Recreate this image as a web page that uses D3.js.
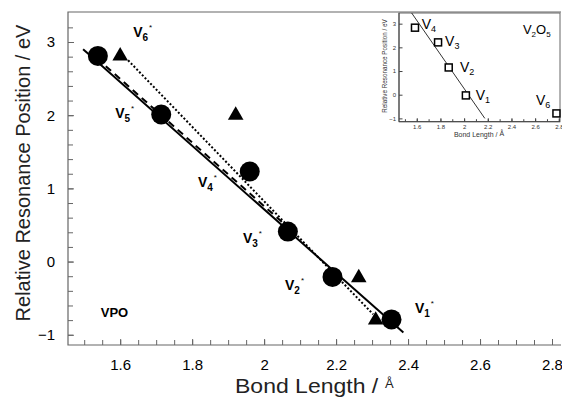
<!DOCTYPE html>
<html>
<head>
<meta charset="utf-8">
<script src="https://cdn.jsdelivr.net/npm/d3@7"></script>
<style>
  body { margin: 0; background: #fff; }
  text { font-family: Arial, "Liberation Sans", sans-serif; }
</style>
</head>
<body>
<div id="plot"></div>
<script>
// VPO data (main plot)
var circleX = [1.538, 1.714, 1.960, 2.066, 2.190, 2.354];
var circleY = [2.81, 2.01, 1.23, 0.41, -0.21, -0.79];
var triX = [1.600, 1.921, 2.263, 2.310];
var triY = [2.81, 2.00, -0.22, -0.80];
var solidLine = [[1.497, 2.90], [2.387, -0.97]];
var dottedLine = [[1.622, 2.75], [2.303, -0.72]];
var dashedLine = [[1.560, 2.67], [2.080, 0.41]];
var labelNames = ["6", "5", "4", "3", "2", "1"];
var labelX = [1.636, 1.586, 1.816, 1.941, 2.058, 2.419];
var labelY = [3.07, 1.96, 1.02, 0.253, -0.389, -0.703];
var xTicks = [1.6, 1.8, 2, 2.2, 2.4, 2.6, 2.8];
var yTicks = [-1, 0, 1, 2, 3];

// V2O5 data (inset)
var insetX = [1.585, 1.780, 1.870, 2.015, 2.780];
var insetY = [2.83, 2.21, 1.15, -0.03, -0.79];
var insetNames = ["4", "3", "2", "1", "6"];
var insetLabelX = [1.642, 1.839, 1.965, 2.098, 2.607];
var insetLabelY = [2.78, 2.07, 0.94, -0.23, -0.44];
var insetLine = [[1.557, 3.45], [2.175, -1.0]];
var insetXTicks = [1.6, 1.8, 2, 2.2, 2.4, 2.6, 2.8];
var insetYTicks = [-1, 0, 1, 2, 3];

var W = 562, H = 397;
var svg = d3.select("#plot").append("svg")
  .attr("width", W).attr("height", H);

var x = d3.scaleLinear().domain([1.455, 2.825]).range([68, 561]);
var y = d3.scaleLinear().domain([-1.14, 3.41]).range([345, 12]);

var axisColor = "#666";

// minor ticks
var xMinor = d3.range(1.5, 2.8001, 0.05);
var yMinor = d3.range(-1, 3.2001, 0.2);

svg.append("g")
  .attr("transform", "translate(0,345)")
  .call(d3.axisBottom(x).tickValues(xMinor).tickSize(-5).tickFormat(""))
  .call(g => g.select(".domain").remove())
  .selectAll("line").attr("stroke", axisColor);

svg.append("g")
  .attr("transform", "translate(68,0)")
  .call(d3.axisLeft(y).tickValues(yMinor).tickSize(-5).tickFormat(""))
  .call(g => g.select(".domain").remove())
  .selectAll("line").attr("stroke", axisColor);

// major tick labels
var xAxis = svg.append("g")
  .attr("transform", "translate(0,345)")
  .call(d3.axisBottom(x).tickValues(xTicks).tickSize(-6).tickPadding(14)
    .tickFormat(d3.format("")));
xAxis.select(".domain").remove();
xAxis.selectAll("line").attr("stroke", axisColor);
xAxis.selectAll("text").attr("font-size", 15).attr("fill", "#000");

var yAxis = svg.append("g")
  .attr("transform", "translate(68,0)")
  .call(d3.axisLeft(y).tickValues(yTicks).tickSize(-6).tickPadding(13)
    .tickFormat(d3.format("")));
yAxis.select(".domain").remove();
yAxis.selectAll("line").attr("stroke", axisColor);
yAxis.selectAll("text").attr("font-size", 15).attr("fill", "#000");

// frame: left, bottom, top
svg.append("path")
  .attr("d", "M561,12H68V345H561")
  .attr("fill", "none")
  .attr("stroke", axisColor)
  .attr("stroke-width", 1.2);

// Axis titles
svg.append("text")
  .attr("transform", "translate(30,173) rotate(-90)")
  .attr("text-anchor", "middle")
  .attr("font-size", 20)
  .attr("fill", "#222")
  .text("Relative Resonance Position / eV");

svg.append("text")
  .attr("transform", "translate(235,393) scale(1.15,1)")
  .attr("font-size", 20)
  .attr("fill", "#222")
  .text("Bond Length /");
svg.append("text")
  .attr("x", 385).attr("y", 388)
  .attr("font-size", 13)
  .attr("font-family", "DejaVu Serif, serif")
  .attr("fill", "#222")
  .text("Å");

// fit lines
var line = d3.line().x(d => x(d[0])).y(d => y(d[1]));

svg.append("path").datum(dottedLine)
  .attr("d", line).attr("fill", "none")
  .attr("stroke", "#000").attr("stroke-width", 2)
  .attr("stroke-dasharray", "2,2");

svg.append("path").datum(dashedLine)
  .attr("d", line).attr("fill", "none")
  .attr("stroke", "#000").attr("stroke-width", 2)
  .attr("stroke-dasharray", "7,5");

svg.append("path").datum(solidLine)
  .attr("d", line).attr("fill", "none")
  .attr("stroke", "#000").attr("stroke-width", 2);

// triangles
svg.selectAll(".tri")
  .data(d3.zip(triX, triY))
  .enter().append("path")
  .attr("class", "tri")
  .attr("transform", d => "translate(" + x(d[0]) + "," + y(d[1]) + ")")
  .attr("d", d3.symbol().type(d3.symbolTriangle).size(105))
  .attr("fill", "#000");

// circles
svg.selectAll(".dot")
  .data(d3.zip(circleX, circleY))
  .enter().append("circle")
  .attr("class", "dot")
  .attr("cx", d => x(d[0]))
  .attr("cy", d => y(d[1]))
  .attr("r", 10)
  .attr("fill", "#000");

// V_n* labels
labelNames.forEach(function(n, i) {
  var t = svg.append("text")
    .attr("x", x(labelX[i])).attr("y", y(labelY[i]))
    .attr("font-size", 14).attr("font-weight", "bold")
    .text("V");
  t.append("tspan").attr("dy", 4).attr("font-size", 10).text(n);
  t.append("tspan").attr("dy", -11).attr("dx", 1).attr("font-size", 8)
    .attr("font-weight", "normal").text("*");
});

svg.append("text")
  .attr("x", x(1.546)).attr("y", y(-0.757))
  .attr("font-size", 13).attr("font-weight", "bold")
  .text("VPO");

// ---- Inset ----
var ix = d3.scaleLinear().domain([1.45, 2.81]).range([399, 560]);
var iy = d3.scaleLinear().domain([-1.14, 3.45]).range([121.7, 13]);

var inset = svg.append("g");
inset.append("rect")
  .attr("x", 399).attr("y", 13)
  .attr("width", 161).attr("height", 108.7)
  .attr("fill", "#fff")
  .attr("stroke", axisColor);

var ixAxis = inset.append("g")
  .attr("transform", "translate(0,121.7)")
  .call(d3.axisBottom(ix).tickValues(d3.range(1.5, 2.8001, 0.1)).tickSize(-2.5).tickFormat(""));
ixAxis.select(".domain").remove();
ixAxis.selectAll("line").attr("stroke", "#444");

var ixMaj = inset.append("g")
  .attr("transform", "translate(0,121.7)")
  .call(d3.axisBottom(ix).tickValues(insetXTicks).tickSize(-3.5).tickPadding(3)
    .tickFormat(d3.format("")));
ixMaj.select(".domain").remove();
ixMaj.selectAll("line").attr("stroke", "#444");
ixMaj.selectAll("text").attr("font-size", 6).attr("fill", "#333");

var iyAxis = inset.append("g")
  .attr("transform", "translate(399,0)")
  .call(d3.axisLeft(iy).tickValues(insetYTicks).tickSize(-3.5).tickPadding(3)
    .tickFormat(d3.format("")));
iyAxis.select(".domain").remove();
iyAxis.selectAll("line").attr("stroke", "#444");
iyAxis.selectAll("text").attr("font-size", 6).attr("fill", "#333");

inset.append("path")
  .attr("d", "M399,13V121.7H560")
  .attr("fill", "none").attr("stroke", "#444");

inset.append("text")
  .attr("transform", "translate(387,66) rotate(-90)")
  .attr("text-anchor", "middle")
  .attr("font-size", 6.3)
  .attr("fill", "#333")
  .text("Relative Resonance Position / eV");

var ixt = inset.append("text")
  .attr("x", 479).attr("y", 137)
  .attr("text-anchor", "middle")
  .attr("font-size", 7)
  .attr("fill", "#333")
  .text("Bond Length / ");
ixt.append("tspan").attr("dy", -1).attr("font-size", 7).text("Å");

inset.append("path").datum(insetLine)
  .attr("d", d3.line().x(d => ix(d[0])).y(d => iy(d[1])))
  .attr("fill", "none").attr("stroke", "#000").attr("stroke-width", 0.8);

inset.selectAll(".sq")
  .data(d3.zip(insetX, insetY))
  .enter().append("rect")
  .attr("class", "sq")
  .attr("x", d => ix(d[0]) - 3.5)
  .attr("y", d => iy(d[1]) - 3.5)
  .attr("width", 7).attr("height", 7)
  .attr("fill", "#fff")
  .attr("stroke", "#000").attr("stroke-width", 1.5);

insetNames.forEach(function(n, i) {
  var t = inset.append("text")
    .attr("x", ix(insetLabelX[i])).attr("y", iy(insetLabelY[i]))
    .attr("font-size", 14)
    .text("V");
  t.append("tspan").attr("dy", 3).attr("font-size", 9).text(n);
});

var v2o5 = inset.append("text")
  .attr("x", ix(2.497)).attr("y", iy(2.57))
  .attr("font-size", 13)
  .text("V");
v2o5.append("tspan").attr("dy", 3).attr("font-size", 8).text("2");
v2o5.append("tspan").attr("dy", -3).attr("font-size", 13).text("O");
v2o5.append("tspan").attr("dy", 3).attr("font-size", 8).text("5");
</script>
</body>
</html>
